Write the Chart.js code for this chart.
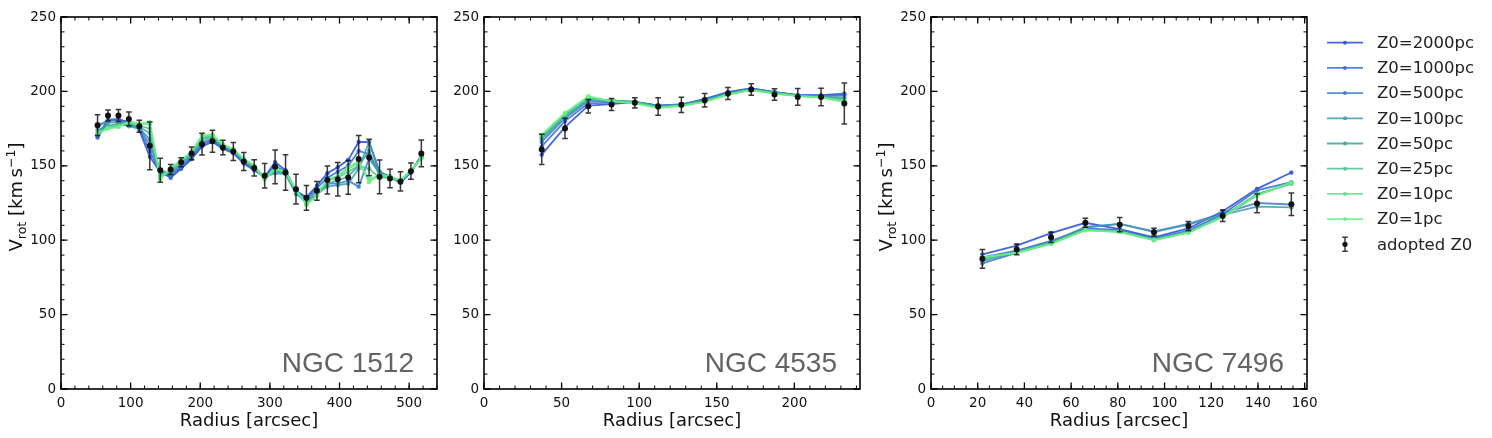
<!DOCTYPE html>
<html>
<head>
<meta charset="utf-8">
<script src="https://cdn.jsdelivr.net/npm/chart.js@4.4.1/dist/chart.umd.min.js"></script>
<style>
  body { margin: 0; background: #fff; width: 1492px; height: 438px; overflow: hidden; position: relative; }
  canvas { position: absolute; top: 0; }
</style>
</head>
<body>
<canvas id="c1" width="445" height="438" style="left:0px"></canvas>
<canvas id="c2" width="445" height="438" style="left:423px"></canvas>
<canvas id="c3" width="622" height="438" style="left:870px"></canvas>
<script>
const modelLabels = ['Z0=2000pc', 'Z0=1000pc', 'Z0=500pc', 'Z0=100pc', 'Z0=50pc', 'Z0=25pc', 'Z0=10pc', 'Z0=1pc'];
const modelColors = ['rgba(38,76,214,0.85)', 'rgba(52,104,212,0.85)', 'rgba(56,124,198,0.85)', 'rgba(66,152,180,0.85)',
                     'rgba(62,166,152,0.85)', 'rgba(72,196,146,0.85)', 'rgba(90,224,138,0.85)', 'rgba(104,240,132,0.85)'];
const yTicks = [0, 50, 100, 150, 200, 250];

// NGC 1512
const r1512 = [52.5, 67.5, 82.5, 97.5, 112.5, 127.5, 142.5, 157.5, 172.5, 187.5, 202.5, 217.5, 232.5, 247.5, 262.5, 277.5,
               292.5, 307.5, 322.5, 337.5, 352.5, 367.5, 382.5, 397.5, 412.5, 427.5, 442.5, 457.5, 472.5, 487.5, 502.5, 517.5];
const v1512 = [177.3, 183.8, 183.8, 181.5, 176.6, 163.4, 147, 147.5, 152.4, 158.3, 164.5, 166.5, 162.3, 159.6, 152.9, 148.6,
               143.3, 149.3, 145.5, 134.3, 128.5, 133.2, 140.4, 141, 142.2, 154.5, 155.6, 142.6, 141.5, 139.5, 146.4, 158.3];
const e1512 = [7, 3.7, 4, 4.6, 4, 16, 8, 3.4, 3, 4.3, 7.3, 7.4, 4.8, 6, 6, 5.5,
               8.2, 11.4, 12, 10, 8.3, 6.3, 9.4, 11.3, 11.4, 15.9, 12.3, 11.3, 6.2, 6.5, 5.4, 9];
const m1512_2000 = [169, 180, 181, 179.5, 174, 156, 146, 142, 148, 154.5, 163, 166, 161.5, 158.5, 151.5, 147,
                    142.5, 152.5, 147, 133, 129, 136.5, 145, 149, 154, 166, 166, 146, 142.5, 138.5, 145.5, 157];
const m1512_1000 = [170.5, 181, 181.5, 178.5, 175, 160, 145, 143, 149, 155.5, 164, 167, 162, 159, 152, 147.5,
                    143, 150, 146, 133, 128, 135, 142, 146, 150, 160, 158, 145, 143, 139, 146, 156.5];
const m1512_500 = [176, 181, 180, 177.5, 176, 164, 146, 144, 150, 156.5, 165, 168, 162.5, 159.5, 152.5, 148,
                   143, 147, 145, 131, 127, 133, 138, 138, 140, 136, 155, 145, 143, 139, 146, 156];
const m1512_100 = [178, 179, 179, 176.5, 175, 168, 147, 145, 151, 157.5, 166, 168.5, 163, 160, 153, 148.5,
                   142.5, 145, 144.5, 131.5, 126, 131, 136, 137, 138, 148, 166, 145, 142.5, 139.5, 146, 156];
const m1512_50 = [174, 177, 178, 177, 176, 172, 145, 146, 152, 158, 168, 169.5, 163.5, 160.5, 153.5, 149,
                  142, 146, 145, 132, 125, 130.5, 138, 140, 143, 150, 160, 143, 142, 139.5, 146.5, 155.5];
const m1512_25 = [172, 176, 177, 178, 177, 175, 143, 147, 153, 158.5, 169, 170, 164, 161, 154, 149.5,
                  141.5, 147, 145.5, 133, 124.5, 130, 140, 142, 146, 150, 148, 142, 142, 140, 146.5, 155];
const m1512_10 = [172, 175.5, 176.5, 179, 178, 178, 141.5, 148, 153.5, 159, 170, 170.5, 164, 161, 154.5, 150,
                  141, 148, 146, 133.5, 124, 130, 141, 143, 148, 152, 141, 143.5, 142.5, 140, 147, 155];
const m1512_1 = [171.5, 175, 176, 180, 178.5, 179.5, 141, 148.5, 154, 159.5, 170.5, 171, 164.5, 161, 155, 150,
                 141, 148, 146, 134, 124, 130, 141, 143, 149, 153, 139, 144, 143, 140, 147, 155];
const xTicks1512 = [0, 100, 200, 300, 400, 500];

// NGC 4535
const r4535 = [37.2, 52.2, 67.2, 82.2, 97.2, 112.2, 127.2, 142.2, 157.2, 172.2, 187.2, 202.2, 217.2, 232.2];
const v4535 = [161, 175.1, 190, 191.2, 192.3, 189.9, 191, 194.1, 198.6, 201.3, 197.9, 196.3, 196.3, 191.9];
const e4535 = [10.2, 6.8, 4.5, 4, 3.5, 5.9, 5.1, 4.5, 4, 3.9, 3.9, 5.6, 5.9, 13.8];
const m4535_2000 = [157.5, 176, 190.5, 191.5, 193, 190.5, 191, 195, 199.5, 202, 199.5, 197.5, 197.5, 198.5];
const m4535_1000 = [163, 180, 192, 192.5, 192.8, 190.5, 191, 194.5, 199.5, 202, 199.5, 197.5, 197, 198];
const m4535_500 = [166, 182, 193.5, 193.5, 193, 190.5, 191.5, 194.5, 199, 201.5, 199.5, 197.5, 197, 197.5];
const m4535_100 = [168, 183, 194.5, 194, 193, 190, 191, 194, 198.5, 201.5, 199, 197, 197, 196];
const m4535_50 = [169, 184, 195, 194, 193, 189.5, 190.5, 193.5, 198.5, 201.5, 199, 197, 196.5, 195];
const m4535_25 = [170, 184.5, 195.5, 193.5, 192.5, 189.5, 190.5, 193.5, 198, 201, 199, 197, 196, 194];
const m4535_10 = [170.5, 185, 196, 193.5, 192.2, 189, 190.5, 193, 198, 201, 198.5, 197, 196, 193.5];
const m4535_1 = [170.8, 185.6, 196.8, 193.5, 192, 189, 190.3, 193, 197.8, 201, 198.5, 196.8, 195.8, 193];
const xTicks4535 = [0, 50, 100, 150, 200];

// NGC 7496
const r7496 = [22, 36.7, 51.4, 66.1, 80.8, 95.5, 110.2, 124.9, 139.6, 154.3];
const v7496 = [87.5, 93.8, 101.9, 111.7, 110.4, 105.4, 109.5, 116.4, 124.7, 124.2];
const e7496 = [6.3, 3.6, 3.5, 3, 4.8, 2.6, 3.1, 3.9, 6.3, 7.6];
const m7496_2000 = [90.5, 96.3, 104.8, 111.7, 107.5, 101.9, 107.9, 119.5, 134.5, 145.5];
const m7496_1000 = [88.5, 93, 99.5, 108, 107, 101, 106.5, 117.5, 133.5, 139];
const m7496_500 = [84.5, 91.5, 98, 108.5, 111, 106, 111, 118, 125, 124];
const m7496_100 = [86, 92, 98.5, 109, 111, 105.5, 110.5, 117, 122.5, 122];
const m7496_50 = [87.5, 92, 98, 107.5, 106, 100.5, 105.5, 116, 131, 138];
const m7496_25 = [88, 91.8, 97.8, 107, 105.7, 100.3, 105.3, 115.8, 130.5, 138.2];
const m7496_10 = [88.3, 91.6, 97.7, 106.8, 105.6, 100.1, 105.2, 115.7, 130.2, 138.5];
const m7496_1 = [88.5, 91.5, 97.6, 106.7, 105.5, 100, 105, 115.6, 130, 138.8];
const xTicks7496 = [0, 20, 40, 60, 80, 100, 120, 140, 160];

const panels = [
  { id: 'c1', name: 'NGC 1512', r: r1512, v: v1512, e: e1512, xMax: 540, xTicks: xTicks1512, xMinor: 20,
    models: [m1512_2000, m1512_1000, m1512_500, m1512_100, m1512_50, m1512_25, m1512_10, m1512_1], yTitle: true, legend: false, padRight: 8 },
  { id: 'c2', name: 'NGC 4535', r: r4535, v: v4535, e: e4535, xMax: 242.3, xTicks: xTicks4535, xMinor: 10,
    models: [m4535_2000, m4535_1000, m4535_500, m4535_100, m4535_50, m4535_25, m4535_10, m4535_1], yTitle: false, legend: false, padRight: 8 },
  { id: 'c3', name: 'NGC 7496', r: r7496, v: v7496, e: e7496, xMax: 161, xTicks: xTicks7496, xMinor: 5,
    models: [m7496_2000, m7496_1000, m7496_500, m7496_100, m7496_50, m7496_25, m7496_10, m7496_1], yTitle: true, legend: true, padRight: 185 }
];

const FONT = '"DejaVu Sans", sans-serif';
const ERR_COLOR = 'rgba(20,20,20,0.85)';

function drawYTitle(ctx, bx, cy) {
  const big = '18px ' + FONT, small = '12.6px ' + FONT;
  const parts = [['V', big, 0], ['rot', small, 4], [' [km\u2009s', big, 0], ['\u22121', small, -7.5], [']', big, 0]];
  ctx.save();
  ctx.translate(bx, cy);
  ctx.rotate(-Math.PI / 2);
  ctx.fillStyle = '#111';
  ctx.textBaseline = 'alphabetic';
  let w = 0;
  parts.forEach(p => { ctx.font = p[1]; w += ctx.measureText(p[0]).width; });
  let x = -w / 2;
  parts.forEach(p => {
    ctx.font = p[1];
    ctx.fillText(p[0], x, p[2]);
    x += ctx.measureText(p[0]).width;
  });
  ctx.restore();
}

function drawErrorBar(ctx, px, top, bottom, cap) {
  ctx.beginPath();
  ctx.moveTo(px, top); ctx.lineTo(px, bottom);
  ctx.moveTo(px - cap, top); ctx.lineTo(px + cap, top);
  ctx.moveTo(px - cap, bottom); ctx.lineTo(px + cap, bottom);
  ctx.stroke();
}

function decor(p) {
  return {
    id: 'decor',
    beforeDatasetDraw(chart, args) {
      if (args.index !== 8) return;
      const { ctx, scales: { x, y } } = chart;
      ctx.save();
      ctx.strokeStyle = ERR_COLOR;
      ctx.lineWidth = 1.5;
      p.r.forEach((rv, i) => {
        drawErrorBar(ctx, x.getPixelForValue(rv), y.getPixelForValue(p.v[i] + p.e[i]), y.getPixelForValue(p.v[i] - p.e[i]), 2.8);
      });
      ctx.restore();
    },
    afterDraw(chart) {
      const { ctx, chartArea: a, scales: { x, y } } = chart;
      ctx.save();
      // ticks pointing inward on all four sides
      ctx.strokeStyle = '#000';
      const tick = (val, len, horiz, scale) => {
        const pos = scale.getPixelForValue(val);
        ctx.beginPath();
        if (horiz) {
          ctx.moveTo(pos, a.bottom); ctx.lineTo(pos, a.bottom - len);
          ctx.moveTo(pos, a.top); ctx.lineTo(pos, a.top + len);
        } else {
          ctx.moveTo(a.left, pos); ctx.lineTo(a.left + len, pos);
          ctx.moveTo(a.right, pos); ctx.lineTo(a.right - len, pos);
        }
        ctx.stroke();
      };
      ctx.lineWidth = 1;
      for (let t = 0; t <= p.xMax; t += p.xMinor) tick(t, 3.5, true, x);
      for (let t = 0; t <= 250; t += 10) tick(t, 3.5, false, y);
      ctx.lineWidth = 1.3;
      p.xTicks.forEach(t => tick(t, 6.5, true, x));
      yTicks.forEach(t => tick(t, 6.5, false, y));
      // frame
      ctx.lineWidth = 1.6;
      ctx.strokeRect(a.left, a.top, a.right - a.left, a.bottom - a.top);
      // galaxy name
      ctx.fillStyle = '#636363';
      ctx.font = '28px "Liberation Sans", Arial, sans-serif';
      ctx.textAlign = 'right';
      ctx.textBaseline = 'alphabetic';
      ctx.fillText(p.name, a.right - 23, a.bottom - 17);
      // x title
      ctx.fillStyle = '#111';
      ctx.font = '18px ' + FONT;
      ctx.textAlign = 'center';
      ctx.fillText('Radius [arcsec]', (a.left + a.right) / 2, 426);
      ctx.restore();
      if (p.yTitle) drawYTitle(ctx, a.left - 39, 197);
      if (p.legend) drawLegend(ctx, a.right);
    }
  };
}

function drawLegend(ctx, right) {
  const x0 = right + 20, x1 = right + 56, tx = right + 70;
  ctx.save();
  ctx.font = '16.5px ' + FONT;
  ctx.textBaseline = 'middle';
  ctx.textAlign = 'left';
  modelLabels.forEach((lab, i) => {
    const yy = 42.7 + 25.2 * i;
    ctx.strokeStyle = modelColors[i];
    ctx.lineWidth = 1.8;
    ctx.beginPath(); ctx.moveTo(x0, yy); ctx.lineTo(x1, yy); ctx.stroke();
    ctx.fillStyle = modelColors[i];
    ctx.beginPath(); ctx.arc((x0 + x1) / 2, yy, 2, 0, Math.PI * 2); ctx.fill();
    ctx.fillStyle = '#222';
    ctx.fillText(lab, tx, yy + 1);
  });
  const yy = 42.7 + 25.2 * 8;
  ctx.strokeStyle = ERR_COLOR;
  ctx.lineWidth = 1.4;
  drawErrorBar(ctx, (x0 + x1) / 2, yy - 7, yy + 7, 2.7);
  ctx.fillStyle = '#111';
  ctx.beginPath(); ctx.arc((x0 + x1) / 2, yy, 2.6, 0, Math.PI * 2); ctx.fill();
  ctx.fillStyle = '#222';
  ctx.fillText('adopted Z0', tx, yy + 1);
  ctx.restore();
}

function makeChart(p) {
  // Chart.js paints higher `order` first, so the small-Z0 (green) curves end up on top
  const datasets = p.models.map((m, k) => ({
    label: modelLabels[k],
    data: p.r.map((rv, i) => ({ x: rv, y: m[i] })),
    order: 9 - k,
    borderColor: modelColors[k],
    backgroundColor: modelColors[k],
    borderWidth: 1.8,
    pointRadius: 2.2,
    pointBorderWidth: 0,
    tension: 0
  }));
  datasets.push({
    label: 'adopted Z0',
    data: p.r.map((rv, i) => ({ x: rv, y: p.v[i] })),
    order: 0,
    showLine: false,
    pointRadius: 3,
    pointBorderWidth: 0,
    backgroundColor: '#111',
    borderColor: '#111'
  });
  const tickFont = { family: FONT, size: 13.5 };
  new Chart(document.getElementById(p.id), {
    type: 'line',
    data: { datasets },
    plugins: [decor(p)],
    options: {
      responsive: false,
      animation: false,
      events: [],
      layout: { padding: { left: 0, right: p.padRight, top: 17, bottom: 0 } },
      plugins: { legend: { display: false }, tooltip: { enabled: false } },
      scales: {
        x: {
          type: 'linear', min: 0, max: p.xMax,
          afterBuildTicks: s => { s.ticks = p.xTicks.map(v => ({ value: v })); },
          afterFit: s => { s.height = 49; },
          grid: { display: false, drawTicks: false }, border: { display: false },
          ticks: { font: tickFont, color: '#111', padding: 6, maxRotation: 0, autoSkip: false }
        },
        y: {
          type: 'linear', min: 0, max: 250,
          afterBuildTicks: s => { s.ticks = yTicks.map(v => ({ value: v })); },
          afterFit: s => { s.width = 61; },
          grid: { display: false, drawTicks: false }, border: { display: false },
          ticks: { font: tickFont, color: '#111', padding: 5, autoSkip: false }
        }
      }
    }
  });
}

panels.forEach(makeChart);
</script>
</body>
</html>
